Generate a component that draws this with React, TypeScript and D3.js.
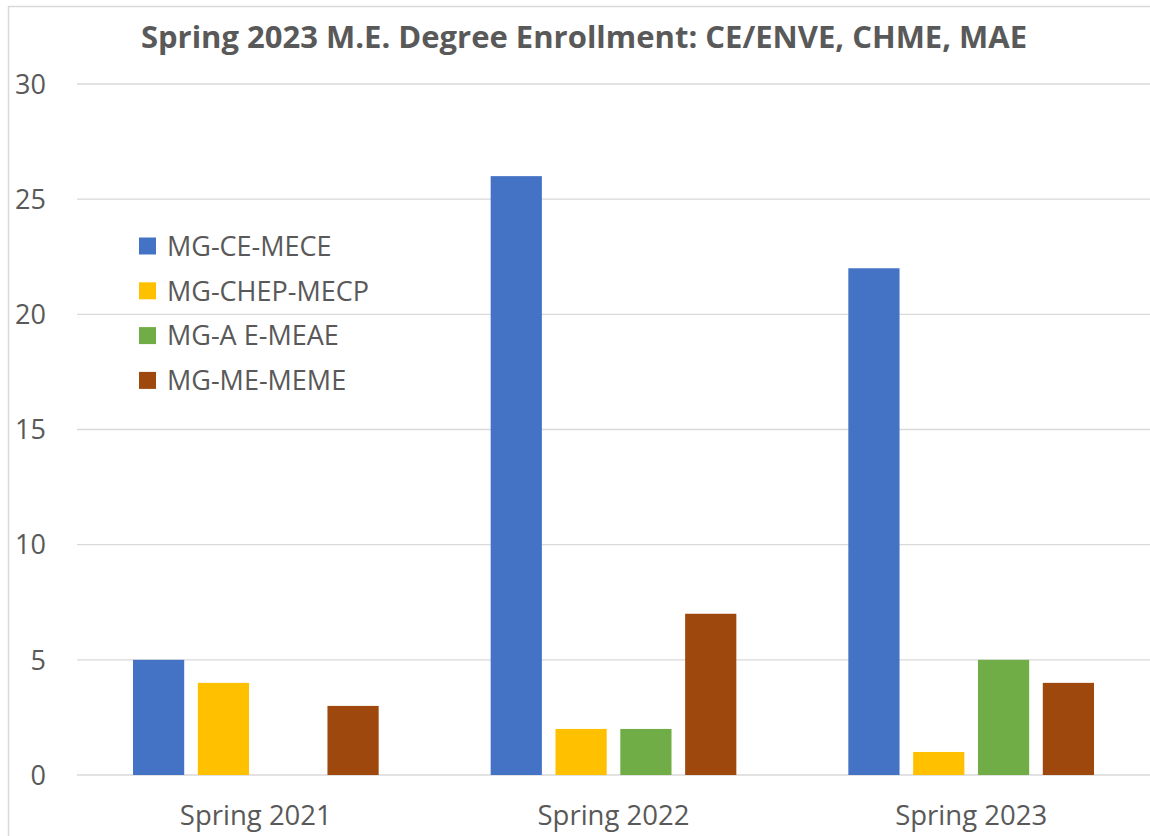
import React, { useEffect, useRef } from "react";
import * as d3 from "d3";

const categories = ["Spring 2021", "Spring 2022", "Spring 2023"];
const seriesNames = ["MG-CE-MECE", "MG-CHEP-MECP", "MG-A E-MEAE", "MG-ME-MEME"];
const seriesColors = ["#4472C4", "#FFC000", "#70AD47", "#9E480E"];
// values per series, one entry per category
const ceMece = [5, 26, 22];
const chepMecp = [4, 2, 1];
const aeMeae = [0, 2, 5];
const meMeme = [3, 7, 4];
const yTicks = [0, 5, 10, 15, 20, 25, 30];

const App = () => {
  const ref = useRef<SVGSVGElement>(null);

  useEffect(() => {
    document.body.style.margin = "0";
    const width = 1150;
    const height = 836;
    const left = 77;
    const right = 1150;
    const top = 84;
    const bottom = 775;
    const font = "'Open Sans', sans-serif";
    const textColor = "#595959";

    const series = [ceMece, chepMecp, aeMeae, meMeme];

    const svg = d3.select(ref.current);
    svg.selectAll("*").remove();
    svg.attr("width", width).attr("height", height);

    svg.append("rect").attr("width", width).attr("height", height).attr("fill", "#fff");

    // chart border (only top and left visible)
    svg
      .append("rect")
      .attr("x", 8.5)
      .attr("y", 6.5)
      .attr("width", width + 20)
      .attr("height", height + 20)
      .attr("fill", "none")
      .attr("stroke", "#d9d9d9")
      .attr("stroke-width", 1.5);

    const y = d3.scaleLinear().domain([0, 30]).range([bottom, top]);
    const x0 = d3.scaleBand().domain(categories).range([left, right]).padding(0);
    const inset = 56;
    const x1 = d3
      .scaleBand()
      .domain(seriesNames)
      .range([inset, x0.bandwidth() - inset])
      .paddingInner(0.21)
      .paddingOuter(0);

    // gridlines
    svg
      .selectAll("line.grid")
      .data(yTicks)
      .join("line")
      .attr("class", "grid")
      .attr("x1", left)
      .attr("x2", right)
      .attr("y1", (d) => y(d))
      .attr("y2", (d) => y(d))
      .attr("stroke", "#d9d9d9")
      .attr("stroke-width", 1.3);

    // y tick labels
    svg
      .selectAll("text.ytick")
      .data(yTicks)
      .join("text")
      .attr("class", "ytick")
      .attr("x", 46)
      .attr("y", (d) => y(d))
      .attr("dy", "0.36em")
      .attr("text-anchor", "end")
      .style("font-family", font)
      .style("font-size", "27px")
      .style("fill", textColor)
      .text((d) => d);

    // bars
    const groups = svg
      .selectAll("g.cat")
      .data(categories)
      .join("g")
      .attr("class", "cat")
      .attr("transform", (d) => `translate(${x0(d)},0)`);

    groups
      .selectAll("rect")
      .data((_, ci) => seriesNames.map((name, si) => ({ name, si, value: series[si][ci] })))
      .join("rect")
      .attr("x", (d) => x1(d.name) as number)
      .attr("y", (d) => y(d.value))
      .attr("width", x1.bandwidth())
      .attr("height", (d) => bottom - y(d.value))
      .attr("fill", (d) => seriesColors[d.si]);

    // x labels
    svg
      .selectAll("text.xlab")
      .data(categories)
      .join("text")
      .attr("class", "xlab")
      .attr("x", (d) => (x0(d) as number) + x0.bandwidth() / 2)
      .attr("y", 825)
      .attr("text-anchor", "middle")
      .style("font-family", font)
      .style("font-size", "27.5px")
      .style("fill", textColor)
      .text((d) => d);

    // title
    svg
      .append("text")
      .attr("x", 584)
      .attr("y", 48)
      .attr("text-anchor", "middle")
      .style("font-family", font)
      .style("font-size", "31px")
      .style("font-weight", "bold")
      .style("fill", textColor)
      .text("Spring 2023 M.E. Degree Enrollment: CE/ENVE, CHME, MAE");

    // legend
    const legend = svg
      .selectAll("g.legend")
      .data(seriesNames)
      .join("g")
      .attr("class", "legend")
      .attr("transform", (_, i) => `translate(139,${246 + i * 44.8})`);

    legend
      .append("rect")
      .attr("x", 0)
      .attr("y", -8.5)
      .attr("width", 17)
      .attr("height", 17)
      .attr("fill", (_, i) => seriesColors[i]);

    legend
      .append("text")
      .attr("x", 28)
      .attr("y", 0)
      .attr("dy", "0.36em")
      .style("font-family", font)
      .style("font-size", "27px")
      .style("fill", textColor)
      .text((d) => d);
  }, []);

  return <svg ref={ref} style={{ display: "block" }} />;
};

export default App;
